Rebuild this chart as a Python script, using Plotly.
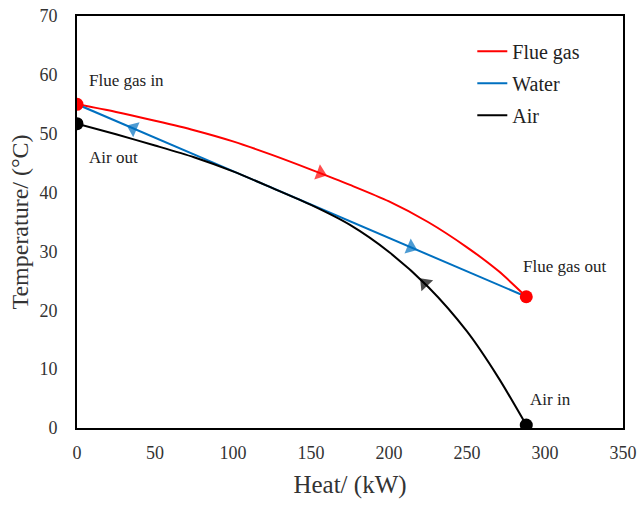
import plotly.graph_objects as go

# Data
flue_x = [0, 25, 50, 75, 100, 125, 150, 175, 200, 225, 250, 270, 288]
flue_y = [55, 53.7, 52.2, 50.6, 48.7, 46.4, 43.9, 41.3, 38.5, 35.0, 30.7, 26.7, 22.3]
water_x = [0, 288]
water_y = [55, 22.3]
air_x = [0, 25, 50, 75, 100, 125, 150, 175, 200, 225, 250, 270, 288]
air_y = [51.7, 49.9, 48.0, 46.0, 43.6, 40.8, 37.9, 34.5, 29.9, 24.0, 16.4, 8.6, 0.5]

flue_end_x = [0, 288]
flue_end_y = [55, 22.3]
air_end_x = [0, 288]
air_end_y = [51.7, 0.5]

# Arrows: (previous point, arrow point) defining direction
arrows = [
    ("#FF0000", [150, 156], [43.9, 43.3]),
    ("#0070C0", [40, 36], [50.46, 50.91]),
    ("#0070C0", [210, 214], [31.14, 30.70]),
    ("#000000", [228, 223], [23.2, 24.6]),
]

labels = [
    ("Flue gas in", 6.5, 59.1),
    ("Air out", 6.5, 46.0),
    ("Flue gas out", 284.5, 27.4),
    ("Air in", 289.0, 4.8),
]

FONT = "Liberation Serif, Times New Roman, serif"

fig = go.Figure()
fig.add_trace(go.Scatter(x=flue_x, y=flue_y, mode="lines", name="Flue gas",
                         line=dict(color="#FF0000", width=2, shape="spline", smoothing=0.8), legendgroup="a"))
fig.add_trace(go.Scatter(x=water_x, y=water_y, mode="lines", name="Water",
                         line=dict(color="#0070C0", width=2), legendgroup="b"))
fig.add_trace(go.Scatter(x=air_x, y=air_y, mode="lines", name="Air",
                         line=dict(color="#000000", width=2, shape="spline", smoothing=0.8), legendgroup="c"))

for c, ax, ay in arrows:
    fig.add_trace(go.Scatter(x=ax, y=ay, mode="markers", showlegend=False,
                             marker=dict(symbol="triangle-up", size=[0, 14], color=c,
                                         angleref="previous", angle=0, line=dict(width=0))))

fig.add_trace(go.Scatter(x=flue_end_x, y=flue_end_y, mode="markers", showlegend=False,
                         marker=dict(color="#FF0000", size=13)))
fig.add_trace(go.Scatter(x=air_end_x, y=air_end_y, mode="markers", showlegend=False,
                         marker=dict(color="#000000", size=13)))

for t, x, y in labels:
    fig.add_annotation(x=x, y=y, text=t, showarrow=False, xanchor="left", yanchor="middle",
                       font=dict(family=FONT, size=17, color="#222"))

fig.update_layout(
    width=639, height=506,
    margin=dict(l=77, r=16, t=16, b=78, autoexpand=False),
    paper_bgcolor="white", plot_bgcolor="white",
    font=dict(family=FONT, color="#222"),
    legend=dict(x=0.724, y=0.962, xanchor="left", yanchor="top",
                font=dict(family=FONT, size=20, color="#222"),
                traceorder="grouped", tracegroupgap=3, bgcolor="rgba(0,0,0,0)"),
    xaxis=dict(range=[0, 350], dtick=50, showgrid=False, zeroline=False, automargin=False,
               showline=True, linecolor="black", linewidth=2, mirror=True,
               ticks="", ticklabelstandoff=7, tickfont=dict(family=FONT, size=18, color="#333"),
               title=dict(text="Heat/ (kW)", font=dict(family=FONT, size=25, color="#333"), standoff=14)),
    yaxis=dict(range=[0, 70], dtick=10, showgrid=False, zeroline=False, automargin=False,
               showline=True, linecolor="black", linewidth=2, mirror=True,
               ticks="", ticklabelstandoff=14, tickfont=dict(family=FONT, size=18, color="#333"),
               title=dict(text="Temperature/ (°C)", font=dict(family=FONT, size=24, color="#333"), standoff=4)),
)

fig.write_html("out.html")
